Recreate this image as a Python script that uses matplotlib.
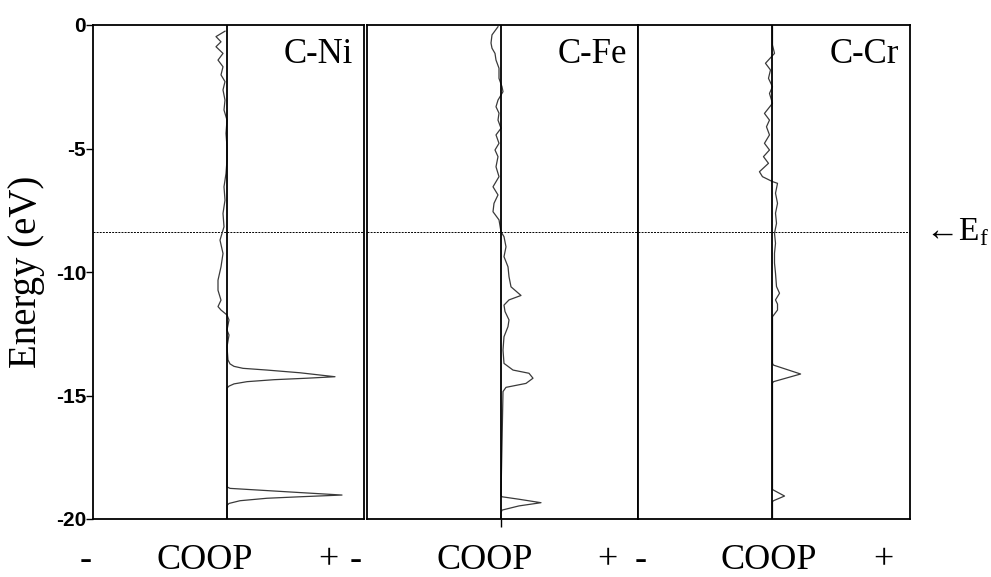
import numpy as np
import matplotlib
matplotlib.use("Agg")
import matplotlib.pyplot as plt

plt.rcParams["font.family"] = ["Liberation Serif", "DejaVu Serif"]
plt.rcParams["mathtext.fontset"] = "custom"
plt.rcParams["mathtext.rm"] = "Liberation Serif"

# COOP curves (energy in eV, COOP in arbitrary units)
ni_e = [-0.25, -0.47, -0.68, -0.88, -1.15, -1.42, -1.69, -2.02, -2.29, -2.63,
        -3.04, -3.44, -3.85, -4.39, -4.93, -5.47, -6.01, -6.55, -7.09, -7.63,
        -8.17, -8.71, -9.25, -9.79, -10.33, -10.74, -11.14, -11.40, -11.54, -11.74,
        -11.94, -12.35, -12.55, -13.03, -13.56, -13.72, -13.82, -13.90, -13.97, -14.08,
        -14.24, -14.30, -14.36, -14.44, -14.53, -14.62, -14.70, -18.70, -18.76, -18.85,
        -18.93, -19.03, -19.10, -19.16, -19.26, -19.37, -19.45, -20.0]
ni_c = [-2, -11, -6, -11, -4, -9, -4, -6, -2, -4,
        -2, -3, 0, -1, 0, 0, -1, -3, -2, -4,
        -3, -7, -4, -6, -9, -9, -6, -9, -6, 0,
        2, 0, 2, 0, 1, 3, 7, 16, 40, 73,
        108, 80, 47, 20, 7, 2, 0, 0, 3, 40,
        73, 115, 73, 40, 13, 2, 0, 0]

fe_e = [-0.07, -0.40, -0.73, -0.94, -1.15, -1.42, -1.75, -2.16, -2.50, -2.70,
        -3.04, -3.31, -3.57, -3.85, -4.18, -4.45, -4.79, -5.06, -5.33, -5.74,
        -6.14, -6.55, -6.88, -7.22, -7.56, -7.89, -8.37, -8.57, -8.98, -9.38,
        -9.79, -10.19, -10.60, -10.95, -11.13, -11.34, -11.60, -11.94, -12.21, -12.62,
        -13.16, -13.70, -13.97, -14.10, -14.30, -14.51, -14.67, -14.84, -19.05, -19.10,
        -19.20, -19.34, -19.47, -19.64, -19.75, -20.0]
fe_c = [-3, -9, -10, -9, -6, -5, -2, -2, 1, 2,
        -3, -5, -2, -3, 0, -5, -2, -6, -3, -5,
        -2, -8, -3, -7, -8, -2, 0, 3, 5, 3,
        7, 8, 10, 20, 8, 3, 4, 8, 7, 3,
        2, 3, 12, 28, 32, 25, 5, 2, 0, 1,
        18, 40, 18, 1, 0, 0]

cr_e = [-0.07, -0.81, -1.15, -1.55, -1.82, -2.16, -2.50, -2.77, -3.17, -3.58,
        -3.85, -4.12, -4.45, -4.79, -5.06, -5.33, -5.60, -5.94, -6.14, -6.34,
        -6.41, -6.81, -7.22, -7.62, -8.03, -8.43, -8.84, -9.24, -9.64, -10.05,
        -10.59, -10.86, -11.13, -11.30, -11.54, -11.81, -13.70, -13.77, -14.13, -14.44,
        -14.50, -18.80, -18.83, -19.07, -19.26, -19.30, -20.0]
cr_c = [0, 0, 2, -7, -2, -4, 0, -3, 0, -8,
        -3, -6, -3, -8, -3, -9, -4, -13, -10, 0,
        5, 3, 5, 3, 4, 2, 3, 2, 2, 3,
        4, 7, 3, 5, 5, 0, 0, 1, 28, 1,
        0, 0, 1, 12, 1, 0, 0]

PANELS = ["C-Ni", "C-Fe", "C-Cr"]
E_FERMI = -8.4
Y_TICKS = [0, -5, -10, -15, -20]

W, H = 991, 577
fig = plt.figure(figsize=(W / 100, H / 100), dpi=100, facecolor="white")

# axes boxes in pixels: left, right
boxes = [(93, 364), (367, 638), (638, 910)]
top_px, bot_px = 25, 519
# bottom labels ( "-", "COOP", "+" ) centre x in pixels
bottom_lbls = [(86, 205, 328), (356, 485, 607), (641, 769, 883)]

curves = [(ni_e, ni_c), (fe_e, fe_c), (cr_e, cr_c)]

for i, (name, (l, r), (e, c)) in enumerate(zip(PANELS, boxes, curves)):
    ax = fig.add_axes([l / W, 1 - bot_px / H, (r - l) / W, (bot_px - top_px) / H])
    ax.plot(c, e, color="#3a3a3a", lw=0.9, zorder=3)
    ax.axvline(0, color="black", lw=1.3, zorder=4)
    ax.axhline(E_FERMI, color="black", lw=0.7, ls=(0, (2, 1.2)), zorder=2)
    ax.set_xlim(-134, 137)
    ax.set_ylim(-20, 0)
    for sp in ax.spines.values():
        sp.set_linewidth(1.3)
    ax.text(0.96, 0.94, name, transform=ax.transAxes, ha="right", va="center",
            fontsize=25)
    if i == 1:
        ax.set_xticks([0])
        ax.tick_params(axis="x", length=6, width=1, labelbottom=False)
    else:
        ax.set_xticks([])
    if i == 0:
        ax.set_yticks(Y_TICKS)
        ax.set_yticklabels([str(t) for t in Y_TICKS], fontfamily="Liberation Sans",
                           fontweight="bold", fontsize=15)
        ax.tick_params(axis="y", length=5, width=1, pad=0)
        ax.set_ylabel("Energy (eV)", fontsize=28, va="center", ha="center")
        ax.yaxis.set_label_coords(-0.245, 0.5)
    else:
        ax.set_yticks([])
    for xp, s in zip(bottom_lbls[i], ["-", "COOP", "+"]):
        fig.text(xp / W, 1 - 569 / H, s, ha="center", va="baseline", fontsize=26)

fig.text(925 / W, 1 - 232 / H, "\u2190E$_\\mathrm{f}$", ha="left", va="center",
         fontsize=24)

fig.savefig("out.png", dpi=100, facecolor="white")
